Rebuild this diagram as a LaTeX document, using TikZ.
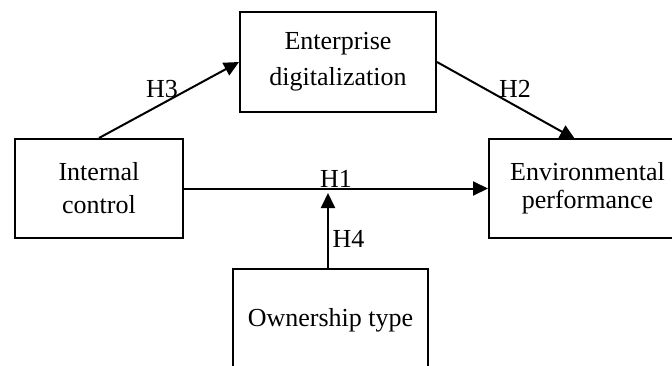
\documentclass[tikz,border=0pt]{standalone}
\usepackage{fontspec}
\setmainfont{Liberation Serif}
\usetikzlibrary{arrows.meta}
\begin{document}
\begin{tikzpicture}[x=1pt,y=-1pt,
  box/.style={draw,line width=2pt,inner sep=0pt,align=center,
    font=\fontsize{26}{33}\selectfont},
  lab/.style={inner sep=0pt,anchor=base,font=\fontsize{26}{30}\selectfont},
  arr/.style={line width=2pt,-{Triangle[length=15pt,width=14pt]}}]
\useasboundingbox (0,0) rectangle (672,365);
\node[box,minimum width=196pt,minimum height=100pt,font=\fontsize{26}{36}\selectfont] (ent) at (338,62) {Enterprise\\digitalization};
\node[box,minimum width=168pt,minimum height=99pt] (ic) at (99,188.5) {Internal\\control};
\node[box,minimum width=197pt,minimum height=99pt,font=\fontsize{26}{28}\selectfont] (env) at (587.5,188.5) {Environmental\\performance};
\node[box,minimum width=195pt,minimum height=102pt] (own) at (330.5,320) {Ownership type};
\coordinate (h4end) at (328,193);
\draw[arr] (ic.north) -- (ent.west);
\draw[arr] (ent.east) -- (575,139);
\draw[arr] (ic.east) -- (env.west |- ic.east);
\draw[arr] (own.north -| h4end) -- (h4end);
\node[lab] (h3) at (162,97.7) {H3};
\node[lab] (h2) at (515,97.7) {H2};
\node[lab] (h1) at (336,187.3) {H1};
\node[lab] (h4) at (348.5,247.3) {H4};
\end{tikzpicture}
\end{document}
